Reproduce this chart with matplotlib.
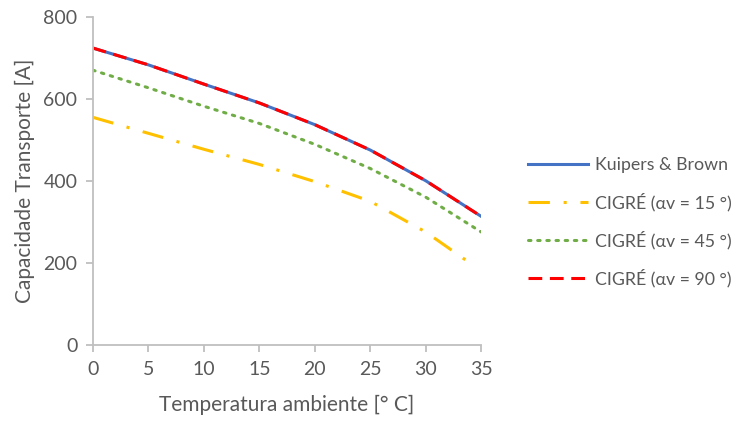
import matplotlib.pyplot as plt

# temperaturas e capacidades
temp = [0, 5, 10, 15, 20, 25, 30, 35]
temp_15 = [0, 5, 10, 15, 20, 25, 30, 34]
kuipers = [724, 683, 636, 590, 537, 475, 400, 313]
cigre_15 = [555, 516, 477, 440, 398, 350, 275, 199]
cigre_45 = [670, 627, 582, 540, 489, 430, 360, 275]
cigre_90 = [724, 683, 636, 590, 537, 475, 400, 313]

plt.rcParams['font.family'] = ['Lato', 'DejaVu Sans']
grey = '#595959'

fig = plt.figure(figsize=(7.36, 4.21), dpi=100)
ax = fig.add_axes([0.126, 0.181, 0.528, 0.779])

ax.plot(temp, kuipers, color='#4472C4', lw=2.2, label='Kuipers & Brown')
ax.plot(temp_15, cigre_15, color='#FFC000', lw=2.2, dashes=(7, 4.5, 1, 4.5),
        label='CIGRÉ (αv = 15 °)')
ax.plot(temp, cigre_45, color='#70AD47', lw=2.2, dashes=(0.8, 2.2),
        dash_capstyle='round', label='CIGRÉ (αv = 45 °)')
ax.plot(temp, cigre_90, color='#FF0000', lw=2.2, dashes=(4.5, 2.5),
        label='CIGRÉ (αv = 90 °)')

ax.set_xlim(0, 35)
ax.set_ylim(0, 800)
ax.set_xticks(range(0, 36, 5))
ax.set_yticks(range(0, 801, 200))
for s in ['top', 'right']:
    ax.spines[s].set_visible(False)
for s in ['left', 'bottom']:
    ax.spines[s].set_color('#BFBFBF')
    ax.spines[s].set_linewidth(1.3)
ax.tick_params(colors='#BFBFBF', labelcolor=grey, labelsize=14, length=5, width=1.3)
ax.tick_params(axis='x', pad=7)
ax.tick_params(axis='y', pad=6)
ax.set_xlabel('Temperatura ambiente [° C]', color=grey, fontsize=15, labelpad=12)
ax.set_ylabel('Capacidade Transporte [A]', color=grey, fontsize=15, labelpad=6)

fig.legend(loc='center left', bbox_to_anchor=(0.717, 0.472), frameon=False,
           fontsize=12.8, labelcolor=grey, handlelength=3.4, handletextpad=0.4,
           borderpad=0, borderaxespad=0, labelspacing=1.1)

fig.savefig('out.png', dpi=100)
